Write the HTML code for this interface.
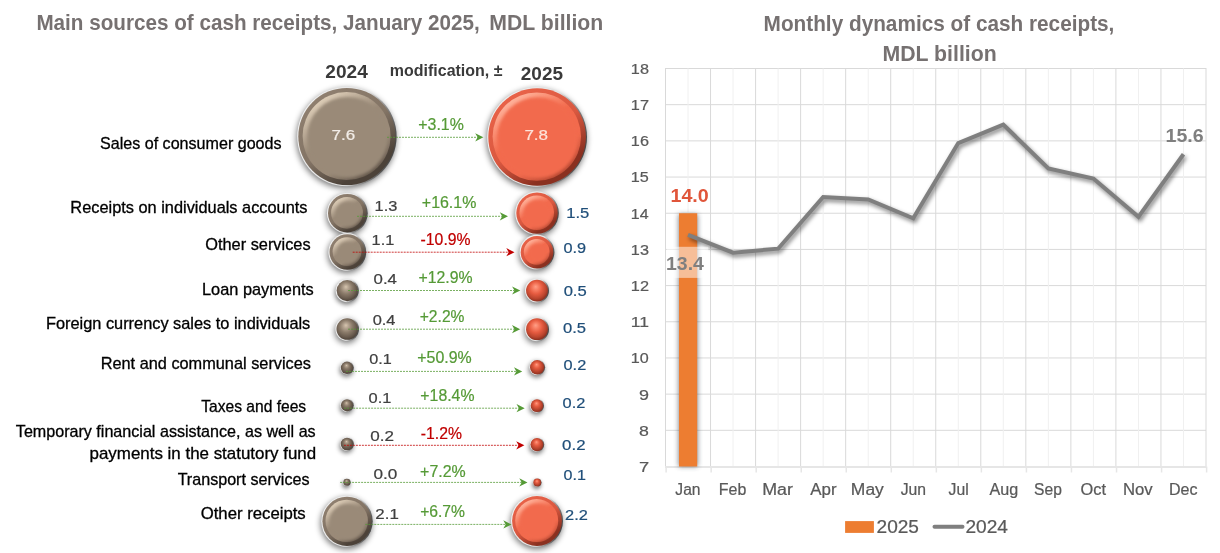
<!DOCTYPE html>
<html><head><meta charset="utf-8"><style>
html,body{margin:0;padding:0;background:#fff;width:1220px;height:553px;overflow:hidden}
svg{display:block;will-change:transform}
text{font-family:"Liberation Sans", sans-serif}
</style></head><body>
<svg width="1220" height="553" viewBox="0 0 1220 553">
<defs>
<filter id="soft1" x="-10%" y="-10%" width="120%" height="120%"><feGaussianBlur stdDeviation="0.5"/></filter>
<filter id="soft2" x="-10%" y="-10%" width="120%" height="120%"><feGaussianBlur stdDeviation="1.6"/></filter>
<linearGradient id="olg" x1="0" y1="0.2" x2="1" y2="0.5">
<stop offset="0" stop-color="#f2f2f2"/><stop offset="0.62" stop-color="#e4e4e4"/><stop offset="0.82" stop-color="#8a8a8a"/><stop offset="1" stop-color="#4a4a4a"/></linearGradient>
<linearGradient id="rimg" x1="0.2" y1="0.05" x2="0.8" y2="0.95">
<stop offset="0" stop-color="#908070"/><stop offset="0.5" stop-color="#837465"/><stop offset="0.85" stop-color="#4c4239"/><stop offset="1" stop-color="#4c4239"/></linearGradient>
<linearGradient id="hig" x1="0.2" y1="0.05" x2="0.8" y2="0.95">
<stop offset="0" stop-color="#e2d2bc"/><stop offset="0.2" stop-color="#c0b09c"/><stop offset="0.42" stop-color="#9a8a78"/><stop offset="0.72" stop-color="#9a8a78"/><stop offset="1" stop-color="#5e5247"/></linearGradient>
<radialGradient id="ing" cx="0.5" cy="0.5" r="0.5">
<stop offset="0" stop-color="#9a8a78"/><stop offset="0.9" stop-color="#9a8a78"/><stop offset="1" stop-color="#9a8a78"/></radialGradient>
<radialGradient id="sphg" cx="0.46" cy="0.42" r="0.58" fx="0.44" fy="0.32">
<stop offset="0" stop-color="#d6c5af"/><stop offset="0.22" stop-color="#b3a28f"/><stop offset="0.5" stop-color="#8b7b6a"/><stop offset="0.8" stop-color="#6a5c4f"/><stop offset="1" stop-color="#4f443a"/></radialGradient>
<linearGradient id="olo" x1="0" y1="0.2" x2="1" y2="0.5">
<stop offset="0" stop-color="#f2f2f2"/><stop offset="0.62" stop-color="#e4e4e4"/><stop offset="0.82" stop-color="#8a8a8a"/><stop offset="1" stop-color="#4a4a4a"/></linearGradient>
<linearGradient id="rimo" x1="0.2" y1="0.05" x2="0.8" y2="0.95">
<stop offset="0" stop-color="#ea6349"/><stop offset="0.5" stop-color="#d95840"/><stop offset="0.85" stop-color="#8a3020"/><stop offset="1" stop-color="#8a3020"/></linearGradient>
<linearGradient id="hio" x1="0.2" y1="0.05" x2="0.8" y2="0.95">
<stop offset="0" stop-color="#ffb8a2"/><stop offset="0.2" stop-color="#fb9378"/><stop offset="0.42" stop-color="#f26a4d"/><stop offset="0.72" stop-color="#f26a4d"/><stop offset="1" stop-color="#b0452f"/></linearGradient>
<radialGradient id="ino" cx="0.5" cy="0.5" r="0.5">
<stop offset="0" stop-color="#f26a4d"/><stop offset="0.9" stop-color="#f26a4d"/><stop offset="1" stop-color="#f26a4d"/></radialGradient>
<radialGradient id="spho" cx="0.46" cy="0.42" r="0.58" fx="0.44" fy="0.32">
<stop offset="0" stop-color="#ffa088"/><stop offset="0.22" stop-color="#f88065"/><stop offset="0.5" stop-color="#e65b40"/><stop offset="0.8" stop-color="#bb452e"/><stop offset="1" stop-color="#8a3020"/></radialGradient>
<radialGradient id="sphsg" cx="0.47" cy="0.45" r="0.56" fx="0.46" fy="0.3">
<stop offset="0" stop-color="#d6c5af"/><stop offset="0.14" stop-color="#b3a28f"/><stop offset="0.38" stop-color="#8b7b6a"/><stop offset="0.7" stop-color="#6a5c4f"/><stop offset="1" stop-color="#4f443a"/></radialGradient>
<radialGradient id="sphso" cx="0.47" cy="0.45" r="0.56" fx="0.46" fy="0.3">
<stop offset="0" stop-color="#ffa088"/><stop offset="0.14" stop-color="#f88065"/><stop offset="0.38" stop-color="#e65b40"/><stop offset="0.7" stop-color="#bb452e"/><stop offset="1" stop-color="#8a3020"/></radialGradient>
<filter id="blur34" x="-60%" y="-60%" width="220%" height="220%"><feGaussianBlur stdDeviation="3.4"/></filter>
<filter id="blur20" x="-60%" y="-60%" width="220%" height="220%"><feGaussianBlur stdDeviation="2.0"/></filter>
<filter id="blur21" x="-60%" y="-60%" width="220%" height="220%"><feGaussianBlur stdDeviation="2.1"/></filter>
<filter id="blur24" x="-60%" y="-60%" width="220%" height="220%"><feGaussianBlur stdDeviation="2.4"/></filter>
<filter id="blur25" x="-60%" y="-60%" width="220%" height="220%"><feGaussianBlur stdDeviation="2.5"/></filter>
<filter id="blur29" x="-60%" y="-60%" width="220%" height="220%"><feGaussianBlur stdDeviation="2.9"/></filter>
<filter id="blur30" x="-60%" y="-60%" width="220%" height="220%"><feGaussianBlur stdDeviation="3.0"/></filter>
<filter id="barsh" x="-100%" y="-10%" width="300%" height="120%"><feGaussianBlur stdDeviation="2.4"/></filter>
<filter id="linesh" x="-10%" y="-20%" width="120%" height="140%"><feGaussianBlur stdDeviation="2"/></filter>
</defs>
<rect width="1220" height="553" fill="#fff"/>
<line x1="665.5" y1="430.32" x2="1206" y2="430.32" stroke="#d9d9d9" stroke-width="1"/>
<line x1="665.5" y1="394.14" x2="1206" y2="394.14" stroke="#d9d9d9" stroke-width="1"/>
<line x1="665.5" y1="357.95" x2="1206" y2="357.95" stroke="#d9d9d9" stroke-width="1"/>
<line x1="665.5" y1="321.77" x2="1206" y2="321.77" stroke="#d9d9d9" stroke-width="1"/>
<line x1="665.5" y1="285.59" x2="1206" y2="285.59" stroke="#d9d9d9" stroke-width="1"/>
<line x1="665.5" y1="249.41" x2="1206" y2="249.41" stroke="#d9d9d9" stroke-width="1"/>
<line x1="665.5" y1="213.23" x2="1206" y2="213.23" stroke="#d9d9d9" stroke-width="1"/>
<line x1="665.5" y1="177.05" x2="1206" y2="177.05" stroke="#d9d9d9" stroke-width="1"/>
<line x1="665.5" y1="140.86" x2="1206" y2="140.86" stroke="#d9d9d9" stroke-width="1"/>
<line x1="665.5" y1="104.68" x2="1206" y2="104.68" stroke="#d9d9d9" stroke-width="1"/>
<line x1="665.5" y1="68.50" x2="1206" y2="68.50" stroke="#d9d9d9" stroke-width="1"/>
<line x1="688.02" y1="68.5" x2="688.02" y2="466.5" stroke="#f0f0f0" stroke-width="1"/>
<line x1="733.06" y1="68.5" x2="733.06" y2="466.5" stroke="#f0f0f0" stroke-width="1"/>
<line x1="778.10" y1="68.5" x2="778.10" y2="466.5" stroke="#f0f0f0" stroke-width="1"/>
<line x1="823.15" y1="68.5" x2="823.15" y2="466.5" stroke="#f0f0f0" stroke-width="1"/>
<line x1="868.19" y1="68.5" x2="868.19" y2="466.5" stroke="#f0f0f0" stroke-width="1"/>
<line x1="913.23" y1="68.5" x2="913.23" y2="466.5" stroke="#f0f0f0" stroke-width="1"/>
<line x1="958.27" y1="68.5" x2="958.27" y2="466.5" stroke="#f0f0f0" stroke-width="1"/>
<line x1="1003.31" y1="68.5" x2="1003.31" y2="466.5" stroke="#f0f0f0" stroke-width="1"/>
<line x1="1048.35" y1="68.5" x2="1048.35" y2="466.5" stroke="#f0f0f0" stroke-width="1"/>
<line x1="1093.40" y1="68.5" x2="1093.40" y2="466.5" stroke="#f0f0f0" stroke-width="1"/>
<line x1="1138.44" y1="68.5" x2="1138.44" y2="466.5" stroke="#f0f0f0" stroke-width="1"/>
<line x1="1183.48" y1="68.5" x2="1183.48" y2="466.5" stroke="#f0f0f0" stroke-width="1"/>
<line x1="665.50" y1="68.0" x2="665.50" y2="466.5" stroke="#d9d9d9" stroke-width="1"/>
<line x1="666.10" y1="466.5" x2="666.10" y2="472.5" stroke="#e6e6e6" stroke-width="1.5"/>
<line x1="710.54" y1="68.0" x2="710.54" y2="466.5" stroke="#d9d9d9" stroke-width="1"/>
<line x1="711.14" y1="466.5" x2="711.14" y2="472.5" stroke="#e6e6e6" stroke-width="1.5"/>
<line x1="755.58" y1="68.0" x2="755.58" y2="466.5" stroke="#d9d9d9" stroke-width="1"/>
<line x1="756.18" y1="466.5" x2="756.18" y2="472.5" stroke="#e6e6e6" stroke-width="1.5"/>
<line x1="800.62" y1="68.0" x2="800.62" y2="466.5" stroke="#d9d9d9" stroke-width="1"/>
<line x1="801.23" y1="466.5" x2="801.23" y2="472.5" stroke="#e6e6e6" stroke-width="1.5"/>
<line x1="845.67" y1="68.0" x2="845.67" y2="466.5" stroke="#d9d9d9" stroke-width="1"/>
<line x1="846.27" y1="466.5" x2="846.27" y2="472.5" stroke="#e6e6e6" stroke-width="1.5"/>
<line x1="890.71" y1="68.0" x2="890.71" y2="466.5" stroke="#d9d9d9" stroke-width="1"/>
<line x1="891.31" y1="466.5" x2="891.31" y2="472.5" stroke="#e6e6e6" stroke-width="1.5"/>
<line x1="935.75" y1="68.0" x2="935.75" y2="466.5" stroke="#d9d9d9" stroke-width="1"/>
<line x1="936.35" y1="466.5" x2="936.35" y2="472.5" stroke="#e6e6e6" stroke-width="1.5"/>
<line x1="980.79" y1="68.0" x2="980.79" y2="466.5" stroke="#d9d9d9" stroke-width="1"/>
<line x1="981.39" y1="466.5" x2="981.39" y2="472.5" stroke="#e6e6e6" stroke-width="1.5"/>
<line x1="1025.83" y1="68.0" x2="1025.83" y2="466.5" stroke="#d9d9d9" stroke-width="1"/>
<line x1="1026.43" y1="466.5" x2="1026.43" y2="472.5" stroke="#e6e6e6" stroke-width="1.5"/>
<line x1="1070.88" y1="68.0" x2="1070.88" y2="466.5" stroke="#d9d9d9" stroke-width="1"/>
<line x1="1071.47" y1="466.5" x2="1071.47" y2="472.5" stroke="#e6e6e6" stroke-width="1.5"/>
<line x1="1115.92" y1="68.0" x2="1115.92" y2="466.5" stroke="#d9d9d9" stroke-width="1"/>
<line x1="1116.52" y1="466.5" x2="1116.52" y2="472.5" stroke="#e6e6e6" stroke-width="1.5"/>
<line x1="1160.96" y1="68.0" x2="1160.96" y2="466.5" stroke="#d9d9d9" stroke-width="1"/>
<line x1="1161.56" y1="466.5" x2="1161.56" y2="472.5" stroke="#e6e6e6" stroke-width="1.5"/>
<line x1="1206.00" y1="68.0" x2="1206.00" y2="466.5" stroke="#d9d9d9" stroke-width="1"/>
<line x1="1206.60" y1="466.5" x2="1206.60" y2="472.5" stroke="#e6e6e6" stroke-width="1.5"/>
<line x1="665.0" y1="467.1" x2="1206.5" y2="467.1" stroke="#e6e6e6" stroke-width="2"/>
<rect x="678.5" y="214.23" width="19.200000000000045" height="252.27" fill="#303840" opacity="0.6" filter="url(#barsh)"/>
<rect x="679" y="213.23" width="18.200000000000045" height="253.27" fill="#ed7d31"/>
<polyline points="688.02,234.94 733.06,252.67 778.10,248.69 823.15,196.95 868.19,199.48 913.23,218.29 958.27,143.03 1003.31,124.58 1048.35,168.36 1093.40,178.49 1138.44,216.85 1183.48,154.25" transform="translate(1.5,2.5)" fill="none" stroke="#000" stroke-opacity="0.5" stroke-width="4" stroke-linejoin="miter" filter="url(#linesh)"/>
<polyline points="688.02,234.94 733.06,252.67 778.10,248.69 823.15,196.95 868.19,199.48 913.23,218.29 958.27,143.03 1003.31,124.58 1048.35,168.36 1093.40,178.49 1138.44,216.85 1183.48,154.25" fill="none" stroke="#7f7f7f" stroke-width="4" stroke-linejoin="miter" stroke-linecap="butt"/>
<rect x="666.7" y="246.8" width="41.6" height="31.1" fill="#ffffff" opacity="0.5"/>
<text x="670.46" y="201.90" font-size="18.4" font-weight="bold" fill="#e0553a" textLength="38.35" lengthAdjust="spacingAndGlyphs">14.0</text>
<text x="665.97" y="269.80" font-size="18.2" font-weight="bold" fill="#7f7f7f" textLength="37.93" lengthAdjust="spacingAndGlyphs">13.4</text>
<text x="1165.57" y="141.80" font-size="18.2" font-weight="bold" fill="#7f7f7f" textLength="38.14" lengthAdjust="spacingAndGlyphs">15.6</text>
<text x="763.61" y="31.40" font-size="21.4" font-weight="bold" fill="#767171" textLength="350.78" lengthAdjust="spacingAndGlyphs">Monthly dynamics of cash receipts,</text>
<text x="882.48" y="61.20" font-size="21.4" font-weight="bold" fill="#767171" textLength="114.23" lengthAdjust="spacingAndGlyphs">MDL billion</text>
<text x="638.96" y="471.90" font-size="15.4" fill="#595959" stroke="#595959" stroke-width="0.22" textLength="10.15" lengthAdjust="spacingAndGlyphs">7</text>
<text x="639.13" y="435.72" font-size="15.4" fill="#595959" stroke="#595959" stroke-width="0.22" textLength="9.84" lengthAdjust="spacingAndGlyphs">8</text>
<text x="639.06" y="399.54" font-size="15.4" fill="#595959" stroke="#595959" stroke-width="0.22" textLength="9.99" lengthAdjust="spacingAndGlyphs">9</text>
<text x="630.87" y="363.35" font-size="15.4" fill="#595959" stroke="#595959" stroke-width="0.22" textLength="17.96" lengthAdjust="spacingAndGlyphs">10</text>
<text x="630.86" y="327.17" font-size="15.4" fill="#595959" stroke="#595959" stroke-width="0.22" textLength="18.14" lengthAdjust="spacingAndGlyphs">11</text>
<text x="630.86" y="290.99" font-size="15.4" fill="#595959" stroke="#595959" stroke-width="0.22" textLength="18.17" lengthAdjust="spacingAndGlyphs">12</text>
<text x="630.86" y="254.81" font-size="15.4" fill="#595959" stroke="#595959" stroke-width="0.22" textLength="18.05" lengthAdjust="spacingAndGlyphs">13</text>
<text x="630.88" y="218.63" font-size="15.4" fill="#595959" stroke="#595959" stroke-width="0.22" textLength="17.79" lengthAdjust="spacingAndGlyphs">14</text>
<text x="630.87" y="182.45" font-size="15.4" fill="#595959" stroke="#595959" stroke-width="0.22" textLength="18.01" lengthAdjust="spacingAndGlyphs">15</text>
<text x="630.86" y="146.26" font-size="15.4" fill="#595959" stroke="#595959" stroke-width="0.22" textLength="18.05" lengthAdjust="spacingAndGlyphs">16</text>
<text x="630.86" y="110.08" font-size="15.4" fill="#595959" stroke="#595959" stroke-width="0.22" textLength="18.17" lengthAdjust="spacingAndGlyphs">17</text>
<text x="630.86" y="73.90" font-size="15.4" fill="#595959" stroke="#595959" stroke-width="0.22" textLength="18.04" lengthAdjust="spacingAndGlyphs">18</text>
<text x="675.36" y="495.20" font-size="15.6" fill="#595959" stroke="#595959" stroke-width="0.22" textLength="25.16" lengthAdjust="spacingAndGlyphs">Jan</text>
<text x="718.79" y="495.20" font-size="15.6" fill="#595959" stroke="#595959" stroke-width="0.22" textLength="27.48" lengthAdjust="spacingAndGlyphs">Feb</text>
<text x="762.23" y="495.20" font-size="15.6" fill="#595959" stroke="#595959" stroke-width="0.22" textLength="30.76" lengthAdjust="spacingAndGlyphs">Mar</text>
<text x="810.27" y="495.20" font-size="15.6" fill="#595959" stroke="#595959" stroke-width="0.22" textLength="26.31" lengthAdjust="spacingAndGlyphs">Apr</text>
<text x="850.87" y="495.20" font-size="15.6" fill="#595959" stroke="#595959" stroke-width="0.22" textLength="32.97" lengthAdjust="spacingAndGlyphs">May</text>
<text x="900.75" y="495.20" font-size="15.6" fill="#595959" stroke="#595959" stroke-width="0.22" textLength="25.37" lengthAdjust="spacingAndGlyphs">Jun</text>
<text x="948.55" y="495.20" font-size="15.6" fill="#595959" stroke="#595959" stroke-width="0.22" textLength="20.10" lengthAdjust="spacingAndGlyphs">Jul</text>
<text x="989.57" y="495.20" font-size="15.6" fill="#595959" stroke="#595959" stroke-width="0.22" textLength="28.67" lengthAdjust="spacingAndGlyphs">Aug</text>
<text x="1034.09" y="495.20" font-size="15.6" fill="#595959" stroke="#595959" stroke-width="0.22" textLength="27.76" lengthAdjust="spacingAndGlyphs">Sep</text>
<text x="1080.62" y="495.20" font-size="15.6" fill="#595959" stroke="#595959" stroke-width="0.22" textLength="25.50" lengthAdjust="spacingAndGlyphs">Oct</text>
<text x="1122.93" y="495.20" font-size="15.6" fill="#595959" stroke="#595959" stroke-width="0.22" textLength="29.73" lengthAdjust="spacingAndGlyphs">Nov</text>
<text x="1168.98" y="495.20" font-size="15.6" fill="#595959" stroke="#595959" stroke-width="0.22" textLength="28.54" lengthAdjust="spacingAndGlyphs">Dec</text>
<rect x="845.1" y="521.1" width="28.8" height="11.8" fill="#ed7d31"/>
<text x="876.54" y="532.90" font-size="18.2" fill="#595959" stroke="#595959" stroke-width="0.22" textLength="42.46" lengthAdjust="spacingAndGlyphs">2025</text>
<line x1="934.5" y1="526.8" x2="962.5" y2="526.8" stroke="#7f7f7f" stroke-width="4" stroke-linecap="round"/>
<text x="965.44" y="532.90" font-size="18.2" fill="#595959" stroke="#595959" stroke-width="0.22" textLength="42.52" lengthAdjust="spacingAndGlyphs">2024</text>
<text x="36.42" y="29.80" font-size="21.4" font-weight="bold" fill="#767171" textLength="443.36" lengthAdjust="spacingAndGlyphs">Main sources of cash receipts, January 2025,</text>
<text x="489.28" y="29.80" font-size="21.4" font-weight="bold" fill="#767171" textLength="114.03" lengthAdjust="spacingAndGlyphs">MDL billion</text>
<text x="325.34" y="77.80" font-size="18.4" font-weight="bold" fill="#3a3a3a" textLength="42.46" lengthAdjust="spacingAndGlyphs">2024</text>
<text x="389.85" y="75.90" font-size="15.6" font-weight="bold" fill="#3a3a3a" textLength="112.63" lengthAdjust="spacingAndGlyphs">modification, ±</text>
<text x="520.84" y="80.00" font-size="18.4" font-weight="bold" fill="#3a3a3a" textLength="42.19" lengthAdjust="spacingAndGlyphs">2025</text>
<text x="99.97" y="149.30" font-size="16.2" fill="#000" stroke="#000" stroke-width="0.3" textLength="181.61" lengthAdjust="spacingAndGlyphs">Sales of consumer goods</text>
<text x="70.36" y="213.10" font-size="16.2" fill="#000" stroke="#000" stroke-width="0.3" textLength="237.13" lengthAdjust="spacingAndGlyphs">Receipts on individuals accounts</text>
<text x="205.23" y="250.00" font-size="16.2" fill="#000" stroke="#000" stroke-width="0.3" textLength="105.36" lengthAdjust="spacingAndGlyphs">Other services</text>
<text x="202.06" y="295.20" font-size="16.2" fill="#000" stroke="#000" stroke-width="0.3" textLength="111.63" lengthAdjust="spacingAndGlyphs">Loan payments</text>
<text x="45.96" y="328.90" font-size="16.2" fill="#000" stroke="#000" stroke-width="0.3" textLength="264.33" lengthAdjust="spacingAndGlyphs">Foreign currency sales to individuals</text>
<text x="100.66" y="368.60" font-size="16.2" fill="#000" stroke="#000" stroke-width="0.3" textLength="210.33" lengthAdjust="spacingAndGlyphs">Rent and communal services</text>
<text x="201.16" y="412.20" font-size="16.2" fill="#000" stroke="#000" stroke-width="0.3" textLength="105.00" lengthAdjust="spacingAndGlyphs">Taxes and fees</text>
<text x="15.84" y="437.30" font-size="16.2" fill="#000" stroke="#000" stroke-width="0.3" textLength="299.84" lengthAdjust="spacingAndGlyphs">Temporary financial assistance, as well as</text>
<text x="89.51" y="459.00" font-size="16.2" fill="#000" stroke="#000" stroke-width="0.3" textLength="226.68" lengthAdjust="spacingAndGlyphs">payments in the statutory fund</text>
<text x="177.64" y="485.20" font-size="16.2" fill="#000" stroke="#000" stroke-width="0.3" textLength="131.84" lengthAdjust="spacingAndGlyphs">Transport services</text>
<text x="200.71" y="519.00" font-size="16.2" fill="#000" stroke="#000" stroke-width="0.3" textLength="105.00" lengthAdjust="spacingAndGlyphs">Other receipts</text>
<circle cx="346.30" cy="138.70" r="49.70" fill="#000" opacity="0.55" filter="url(#blur34)"/>
<circle cx="346.90" cy="136.50" r="49.70" fill="url(#olg)"/>
<clipPath id="cp1"><circle cx="346.90" cy="136.50" r="48.60"/></clipPath>
<g clip-path="url(#cp1)">
<circle cx="346.90" cy="136.50" r="49.60" fill="url(#rimg)"/>
<circle cx="346.60" cy="136.10" r="44.00" fill="url(#hig)" filter="url(#soft1)"/>
<circle cx="347.40" cy="137.20" r="40.20" fill="#9a8a78" filter="url(#soft2)"/>
</g>
<circle cx="346.70" cy="215.40" r="20.40" fill="#000" opacity="0.55" filter="url(#blur34)"/>
<circle cx="347.30" cy="213.20" r="20.40" fill="url(#olg)"/>
<clipPath id="cp2"><circle cx="347.30" cy="213.20" r="19.30"/></clipPath>
<g clip-path="url(#cp2)">
<circle cx="347.30" cy="213.20" r="20.30" fill="url(#rimg)"/>
<circle cx="347.00" cy="212.80" r="15.90" fill="url(#hig)" filter="url(#soft1)"/>
<circle cx="347.80" cy="213.90" r="12.70" fill="#9a8a78" filter="url(#soft2)"/>
</g>
<circle cx="346.70" cy="254.20" r="18.90" fill="#000" opacity="0.55" filter="url(#blur34)"/>
<circle cx="347.30" cy="252.00" r="18.90" fill="url(#olg)"/>
<clipPath id="cp3"><circle cx="347.30" cy="252.00" r="17.80"/></clipPath>
<g clip-path="url(#cp3)">
<circle cx="347.30" cy="252.00" r="18.80" fill="url(#rimg)"/>
<circle cx="347.00" cy="251.60" r="14.40" fill="url(#hig)" filter="url(#soft1)"/>
<circle cx="347.80" cy="252.70" r="11.20" fill="#9a8a78" filter="url(#soft2)"/>
</g>
<circle cx="346.60" cy="292.80" r="11.60" fill="#000" opacity="0.55" filter="url(#blur29)"/>
<circle cx="347.20" cy="290.60" r="11.60" fill="url(#olg)"/>
<circle cx="347.20" cy="290.60" r="10.56" fill="url(#sphg)"/>
<circle cx="346.60" cy="331.30" r="11.80" fill="#000" opacity="0.55" filter="url(#blur30)"/>
<circle cx="347.20" cy="329.10" r="11.80" fill="url(#olg)"/>
<circle cx="347.20" cy="329.10" r="10.74" fill="url(#sphg)"/>
<circle cx="346.40" cy="370.00" r="6.80" fill="#000" opacity="0.55" filter="url(#blur24)"/>
<circle cx="347.00" cy="367.80" r="6.80" fill="url(#olg)"/>
<circle cx="347.00" cy="367.80" r="6.19" fill="url(#sphsg)"/>
<circle cx="346.40" cy="407.50" r="6.70" fill="#000" opacity="0.55" filter="url(#blur24)"/>
<circle cx="347.00" cy="405.30" r="6.70" fill="url(#olg)"/>
<circle cx="347.00" cy="405.30" r="6.10" fill="url(#sphsg)"/>
<circle cx="346.40" cy="446.20" r="6.90" fill="#000" opacity="0.55" filter="url(#blur24)"/>
<circle cx="347.00" cy="444.00" r="6.90" fill="url(#olg)"/>
<circle cx="347.00" cy="444.00" r="6.28" fill="url(#sphsg)"/>
<circle cx="346.20" cy="484.50" r="3.80" fill="#000" opacity="0.55" filter="url(#blur20)"/>
<circle cx="346.80" cy="482.30" r="3.80" fill="url(#olg)"/>
<circle cx="346.80" cy="482.30" r="3.46" fill="url(#sphsg)"/>
<circle cx="346.40" cy="523.50" r="25.70" fill="#000" opacity="0.55" filter="url(#blur34)"/>
<circle cx="347.00" cy="521.30" r="25.70" fill="url(#olg)"/>
<clipPath id="cp10"><circle cx="347.00" cy="521.30" r="24.60"/></clipPath>
<g clip-path="url(#cp10)">
<circle cx="347.00" cy="521.30" r="25.60" fill="url(#rimg)"/>
<circle cx="346.70" cy="520.90" r="21.20" fill="url(#hig)" filter="url(#soft1)"/>
<circle cx="347.50" cy="522.00" r="18.00" fill="#9a8a78" filter="url(#soft2)"/>
</g>
<circle cx="536.50" cy="139.20" r="49.90" fill="#000" opacity="0.55" filter="url(#blur34)"/>
<circle cx="537.10" cy="137.00" r="49.90" fill="url(#olo)"/>
<clipPath id="cp11"><circle cx="537.10" cy="137.00" r="48.80"/></clipPath>
<g clip-path="url(#cp11)">
<circle cx="537.10" cy="137.00" r="49.80" fill="url(#rimo)"/>
<circle cx="536.80" cy="136.60" r="44.20" fill="url(#hio)" filter="url(#soft1)"/>
<circle cx="537.60" cy="137.70" r="40.40" fill="#f26a4d" filter="url(#soft2)"/>
</g>
<circle cx="536.40" cy="215.30" r="21.80" fill="#000" opacity="0.55" filter="url(#blur34)"/>
<circle cx="537.00" cy="213.10" r="21.80" fill="url(#olo)"/>
<clipPath id="cp12"><circle cx="537.00" cy="213.10" r="20.70"/></clipPath>
<g clip-path="url(#cp12)">
<circle cx="537.00" cy="213.10" r="21.70" fill="url(#rimo)"/>
<circle cx="536.70" cy="212.70" r="17.30" fill="url(#hio)" filter="url(#soft1)"/>
<circle cx="537.50" cy="213.80" r="14.10" fill="#f26a4d" filter="url(#soft2)"/>
</g>
<circle cx="536.40" cy="254.40" r="17.40" fill="#000" opacity="0.55" filter="url(#blur34)"/>
<circle cx="537.00" cy="252.20" r="17.40" fill="url(#olo)"/>
<clipPath id="cp13"><circle cx="537.00" cy="252.20" r="16.30"/></clipPath>
<g clip-path="url(#cp13)">
<circle cx="537.00" cy="252.20" r="17.30" fill="url(#rimo)"/>
<circle cx="536.70" cy="251.80" r="12.90" fill="url(#hio)" filter="url(#soft1)"/>
<circle cx="537.50" cy="252.90" r="9.70" fill="#f26a4d" filter="url(#soft2)"/>
</g>
<circle cx="536.40" cy="292.80" r="12.00" fill="#000" opacity="0.55" filter="url(#blur30)"/>
<circle cx="537.00" cy="290.60" r="12.00" fill="url(#olo)"/>
<circle cx="537.00" cy="290.60" r="10.92" fill="url(#spho)"/>
<circle cx="536.40" cy="331.40" r="12.00" fill="#000" opacity="0.55" filter="url(#blur30)"/>
<circle cx="537.00" cy="329.20" r="12.00" fill="url(#olo)"/>
<circle cx="537.00" cy="329.20" r="10.92" fill="url(#spho)"/>
<circle cx="536.60" cy="369.50" r="7.90" fill="#000" opacity="0.55" filter="url(#blur25)"/>
<circle cx="537.20" cy="367.30" r="7.90" fill="url(#olo)"/>
<circle cx="537.20" cy="367.30" r="7.19" fill="url(#sphso)"/>
<circle cx="536.40" cy="407.90" r="7.00" fill="#000" opacity="0.55" filter="url(#blur24)"/>
<circle cx="537.00" cy="405.70" r="7.00" fill="url(#olo)"/>
<circle cx="537.00" cy="405.70" r="6.37" fill="url(#sphso)"/>
<circle cx="536.40" cy="446.80" r="7.20" fill="#000" opacity="0.55" filter="url(#blur24)"/>
<circle cx="537.00" cy="444.60" r="7.20" fill="url(#olo)"/>
<circle cx="537.00" cy="444.60" r="6.55" fill="url(#sphso)"/>
<circle cx="536.60" cy="484.70" r="4.30" fill="#000" opacity="0.55" filter="url(#blur21)"/>
<circle cx="537.20" cy="482.50" r="4.30" fill="url(#olo)"/>
<circle cx="537.20" cy="482.50" r="3.91" fill="url(#sphso)"/>
<circle cx="536.40" cy="523.20" r="26.00" fill="#000" opacity="0.55" filter="url(#blur34)"/>
<circle cx="537.00" cy="521.00" r="26.00" fill="url(#olo)"/>
<clipPath id="cp20"><circle cx="537.00" cy="521.00" r="24.90"/></clipPath>
<g clip-path="url(#cp20)">
<circle cx="537.00" cy="521.00" r="25.90" fill="url(#rimo)"/>
<circle cx="536.70" cy="520.60" r="21.50" fill="url(#hio)" filter="url(#soft1)"/>
<circle cx="537.50" cy="521.70" r="18.30" fill="#f26a4d" filter="url(#soft2)"/>
</g>
<line x1="387" y1="137.3" x2="477.9" y2="137.3" stroke="#559a36" stroke-opacity="0.78" stroke-width="1" stroke-dasharray="2 1"/>
<path d="M483.4 137.3 L475.2 133.20000000000002 L477.59999999999997 137.3 L475.2 141.4 Z" fill="#559a36"/>
<line x1="357" y1="216.3" x2="502.5" y2="216.3" stroke="#559a36" stroke-opacity="0.78" stroke-width="1" stroke-dasharray="2 1"/>
<path d="M508 216.3 L499.8 212.20000000000002 L502.2 216.3 L499.8 220.4 Z" fill="#559a36"/>
<line x1="352.7" y1="252.2" x2="509.0" y2="252.2" stroke="#c00000" stroke-opacity="0.78" stroke-width="1" stroke-dasharray="2 1"/>
<path d="M514.5 252.2 L506.3 248.1 L508.7 252.2 L506.3 256.3 Z" fill="#c00000"/>
<line x1="348" y1="290.5" x2="514.8" y2="290.5" stroke="#559a36" stroke-opacity="0.78" stroke-width="1" stroke-dasharray="2 1"/>
<path d="M520.3 290.5 L512.0999999999999 286.4 L514.5 290.5 L512.0999999999999 294.6 Z" fill="#559a36"/>
<line x1="348" y1="329.2" x2="514.7" y2="329.2" stroke="#559a36" stroke-opacity="0.78" stroke-width="1" stroke-dasharray="2 1"/>
<path d="M520.2 329.2 L512.0 325.09999999999997 L514.4000000000001 329.2 L512.0 333.3 Z" fill="#559a36"/>
<line x1="346" y1="371.4" x2="516.7" y2="371.4" stroke="#559a36" stroke-opacity="0.78" stroke-width="1" stroke-dasharray="2 1"/>
<path d="M522.2 371.4 L514.0 367.29999999999995 L516.4000000000001 371.4 L514.0 375.5 Z" fill="#559a36"/>
<line x1="344.1" y1="408.2" x2="519.2" y2="408.2" stroke="#559a36" stroke-opacity="0.78" stroke-width="1" stroke-dasharray="2 1"/>
<path d="M524.7 408.2 L516.5 404.09999999999997 L518.9000000000001 408.2 L516.5 412.3 Z" fill="#559a36"/>
<line x1="343.9" y1="445.3" x2="518.9" y2="445.3" stroke="#c00000" stroke-opacity="0.78" stroke-width="1" stroke-dasharray="2 1"/>
<path d="M524.4 445.3 L516.1999999999999 441.2 L518.6 445.3 L516.1999999999999 449.40000000000003 Z" fill="#c00000"/>
<line x1="340.1" y1="482.4" x2="522.0" y2="482.4" stroke="#559a36" stroke-opacity="0.78" stroke-width="1" stroke-dasharray="2 1"/>
<path d="M527.5 482.4 L519.3 478.29999999999995 L521.7 482.4 L519.3 486.5 Z" fill="#559a36"/>
<line x1="365.3" y1="524.4" x2="506.0" y2="524.4" stroke="#559a36" stroke-opacity="0.78" stroke-width="1" stroke-dasharray="2 1"/>
<path d="M511.5 524.4 L503.3 520.3 L505.7 524.4 L503.3 528.5 Z" fill="#559a36"/>
<text x="331.63" y="139.70" font-size="15.2" fill="#f2ede8" stroke="#f2ede8" stroke-width="0.22" textLength="23.62" lengthAdjust="spacingAndGlyphs">7.6</text>
<text x="374.55" y="210.90" font-size="15.2" fill="#404040" stroke="#404040" stroke-width="0.22" textLength="22.77" lengthAdjust="spacingAndGlyphs">1.3</text>
<text x="371.55" y="244.70" font-size="15.2" fill="#404040" stroke="#404040" stroke-width="0.22" textLength="22.75" lengthAdjust="spacingAndGlyphs">1.1</text>
<text x="373.64" y="283.90" font-size="15.2" fill="#404040" stroke="#404040" stroke-width="0.22" textLength="23.35" lengthAdjust="spacingAndGlyphs">0.4</text>
<text x="372.66" y="324.70" font-size="15.2" fill="#404040" stroke="#404040" stroke-width="0.22" textLength="22.82" lengthAdjust="spacingAndGlyphs">0.4</text>
<text x="369.27" y="363.60" font-size="15.2" fill="#404040" stroke="#404040" stroke-width="0.22" textLength="22.52" lengthAdjust="spacingAndGlyphs">0.1</text>
<text x="368.56" y="402.70" font-size="15.2" fill="#404040" stroke="#404040" stroke-width="0.22" textLength="22.84" lengthAdjust="spacingAndGlyphs">0.1</text>
<text x="370.33" y="440.80" font-size="15.2" fill="#404040" stroke="#404040" stroke-width="0.22" textLength="23.72" lengthAdjust="spacingAndGlyphs">0.2</text>
<text x="373.43" y="478.60" font-size="15.2" fill="#404040" stroke="#404040" stroke-width="0.22" textLength="23.84" lengthAdjust="spacingAndGlyphs">0.0</text>
<text x="375.35" y="518.80" font-size="15.2" fill="#404040" stroke="#404040" stroke-width="0.22" textLength="23.47" lengthAdjust="spacingAndGlyphs">2.1</text>
<text x="418.32" y="130.10" font-size="16.2" fill="#559a36" stroke="#559a36" stroke-width="0.22" textLength="45.54" lengthAdjust="spacingAndGlyphs">+3.1%</text>
<text x="421.82" y="207.70" font-size="16.2" fill="#559a36" stroke="#559a36" stroke-width="0.22" textLength="54.55" lengthAdjust="spacingAndGlyphs">+16.1%</text>
<text x="420.60" y="245.00" font-size="16.2" fill="#c00000" stroke="#c00000" stroke-width="0.22" textLength="49.96" lengthAdjust="spacingAndGlyphs">-10.9%</text>
<text x="418.53" y="283.00" font-size="16.2" fill="#559a36" stroke="#559a36" stroke-width="0.22" textLength="54.14" lengthAdjust="spacingAndGlyphs">+12.9%</text>
<text x="419.74" y="321.80" font-size="16.2" fill="#559a36" stroke="#559a36" stroke-width="0.22" textLength="44.72" lengthAdjust="spacingAndGlyphs">+2.2%</text>
<text x="417.32" y="362.90" font-size="16.2" fill="#559a36" stroke="#559a36" stroke-width="0.22" textLength="54.44" lengthAdjust="spacingAndGlyphs">+50.9%</text>
<text x="420.33" y="401.20" font-size="16.2" fill="#559a36" stroke="#559a36" stroke-width="0.22" textLength="54.14" lengthAdjust="spacingAndGlyphs">+18.4%</text>
<text x="420.80" y="439.10" font-size="16.2" fill="#c00000" stroke="#c00000" stroke-width="0.22" textLength="41.16" lengthAdjust="spacingAndGlyphs">-1.2%</text>
<text x="420.12" y="476.50" font-size="16.2" fill="#559a36" stroke="#559a36" stroke-width="0.22" textLength="45.65" lengthAdjust="spacingAndGlyphs">+7.2%</text>
<text x="420.13" y="516.70" font-size="16.2" fill="#559a36" stroke="#559a36" stroke-width="0.22" textLength="44.93" lengthAdjust="spacingAndGlyphs">+6.7%</text>
<text x="524.43" y="139.70" font-size="14.8" fill="#fde3da" stroke="#fde3da" stroke-width="0.22" textLength="23.61" lengthAdjust="spacingAndGlyphs">7.8</text>
<text x="566.24" y="217.60" font-size="14.8" fill="#1f4e79" stroke="#1f4e79" stroke-width="0.22" textLength="23.06" lengthAdjust="spacingAndGlyphs">1.5</text>
<text x="563.56" y="253.40" font-size="14.8" fill="#1f4e79" stroke="#1f4e79" stroke-width="0.22" textLength="22.61" lengthAdjust="spacingAndGlyphs">0.9</text>
<text x="563.65" y="295.80" font-size="14.8" fill="#1f4e79" stroke="#1f4e79" stroke-width="0.22" textLength="23.04" lengthAdjust="spacingAndGlyphs">0.5</text>
<text x="562.95" y="333.00" font-size="14.8" fill="#1f4e79" stroke="#1f4e79" stroke-width="0.22" textLength="23.04" lengthAdjust="spacingAndGlyphs">0.5</text>
<text x="563.56" y="369.60" font-size="14.8" fill="#1f4e79" stroke="#1f4e79" stroke-width="0.22" textLength="22.66" lengthAdjust="spacingAndGlyphs">0.2</text>
<text x="562.56" y="408.00" font-size="14.8" fill="#1f4e79" stroke="#1f4e79" stroke-width="0.22" textLength="22.76" lengthAdjust="spacingAndGlyphs">0.2</text>
<text x="562.14" y="450.00" font-size="14.8" fill="#1f4e79" stroke="#1f4e79" stroke-width="0.22" textLength="23.40" lengthAdjust="spacingAndGlyphs">0.2</text>
<text x="563.57" y="480.10" font-size="14.8" fill="#1f4e79" stroke="#1f4e79" stroke-width="0.22" textLength="22.31" lengthAdjust="spacingAndGlyphs">0.1</text>
<text x="565.08" y="519.80" font-size="14.8" fill="#1f4e79" stroke="#1f4e79" stroke-width="0.22" textLength="22.75" lengthAdjust="spacingAndGlyphs">2.2</text>
</svg>
</body></html>
